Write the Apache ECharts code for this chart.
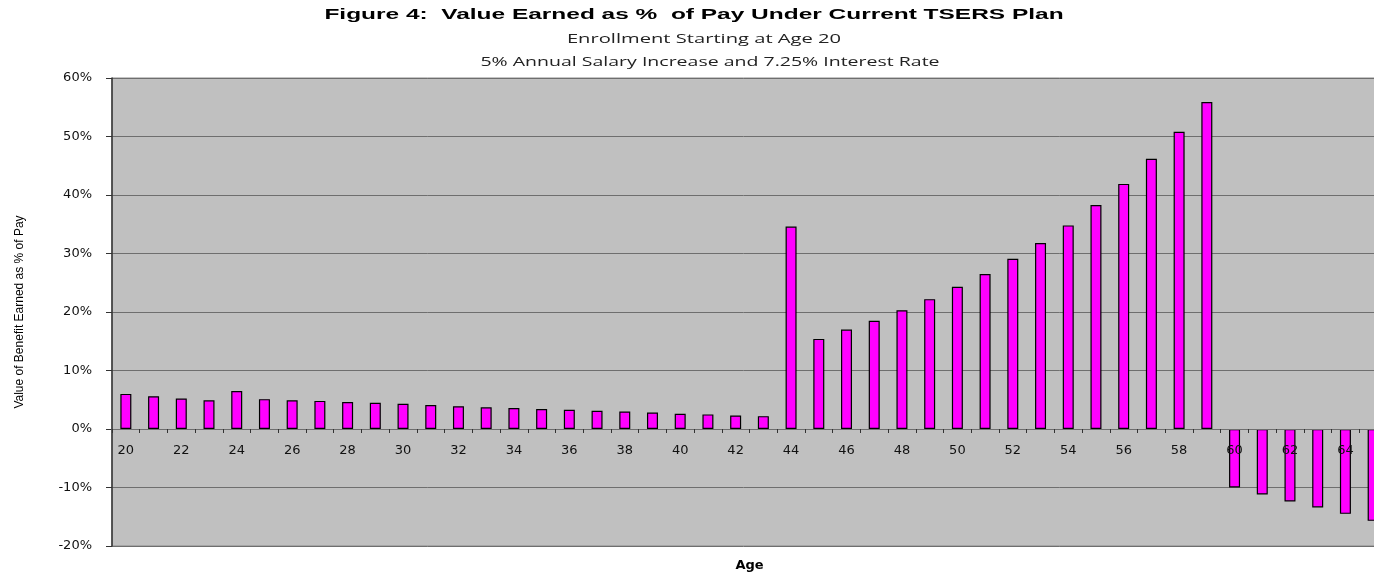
<!DOCTYPE html>
<html>
<head>
<meta charset="utf-8">
<title>Figure 4</title>
<script src="https://cdn.jsdelivr.net/npm/echarts@6/dist/echarts.min.js"></script>
<style>
  html, body { margin: 0; padding: 0; background: #fff; }
  #chart { width: 1374px; height: 579px; }
</style>
</head>
<body>
<div id="chart"></div>
<script>
// ages on the x axis
var ages = ['20','21','22','23','24','25','26','27','28','29',
            '30','31','32','33','34','35','36','37','38','39',
            '40','41','42','43','44','45','46','47','48','49',
            '50','51','52','53','54','55','56','57','58','59',
            '60','61','62','63','64','65'];

// value of benefit earned as % of pay
var valueEarned = [6.0, 5.6, 5.2, 4.9, 6.5, 5.1, 4.9, 4.8, 4.6, 4.5,
                   4.3, 4.1, 3.9, 3.7, 3.6, 3.4, 3.3, 3.1, 3.0, 2.8,
                   2.6, 2.5, 2.3, 2.2, 34.6, 15.4, 17.0, 18.5, 20.3, 22.2,
                   24.3, 26.5, 29.1, 31.8, 34.8, 38.3, 41.9, 46.2, 50.8, 55.9,
                   -10.0, -11.2, -12.4, -13.4, -14.5, -15.7];

var titleLines = [
    'Figure 4:  Value Earned as %  of Pay Under Current TSERS Plan',
    'Enrollment Starting at Age 20',
    '5% Annual Salary Increase and 7.25% Interest Rate'
];

var chart = echarts.init(document.getElementById('chart'));

// the original picture is stretched sideways, so the title lines get a scaleX
function titleText(str, x, y, size, weight, sx) {
    return {
        type: 'text',
        x: x,
        y: y,
        scaleX: sx,
        style: {
            text: str,
            fontFamily: weight === 'bold' ? 'Liberation Sans' : 'Open Sans',
            fontWeight: weight,
            fontSize: size,
            fill: weight === 'bold' ? '#000' : '#222',
            align: 'center',
            verticalAlign: 'middle'
        }
    };
}

var option = {
    animation: false,
    graphic: [
        titleText(titleLines[0], 694, 15, 15, 'bold', 1.63),
        titleText(titleLines[1], 704, 39, 13, 'normal', 1.55),
        titleText(titleLines[2], 710, 62, 13, 'normal', 1.5)
    ],
    grid: {
        left: 112,
        top: 78,
        width: 1275,
        bottom: 33,
        outerBoundsMode: 'none',
        containLabel: false,
        show: true,
        backgroundColor: '#c0c0c0',
        borderColor: '#8a8a8a',
        borderWidth: 1
    },
    xAxis: {
        type: 'category',
        data: ages,
        position: 'bottom',
        offset: -117,   // pull the category axis up onto the 0% line
        z: 3,           // labels sit on top of the negative bars
        name: 'Age',
        nameLocation: 'middle',
        nameGap: 130,
        nameTextStyle: { fontFamily: 'DejaVu Sans', fontWeight: 'bold', fontSize: 13, color: '#000' },
        axisLine: { onZero: false, lineStyle: { color: '#6e6e6e', width: 1 } },
        axisTick: { show: true, interval: 0, length: 4, lineStyle: { color: '#333' } },
        axisLabel: {
            interval: 1,
            margin: 15,
            fontFamily: 'DejaVu Sans',
            fontSize: 13,
            color: '#111'
        },
        splitLine: { show: false }
    },
    yAxis: {
        type: 'value',
        min: -20,
        max: 60,
        interval: 10,
        name: 'Value of Benefit Earned as % of Pay',
        nameLocation: 'middle',
        nameGap: 86,
        nameRotate: 90,
        nameTextStyle: { fontFamily: 'Liberation Sans', fontSize: 12, color: '#000' },
        axisLine: { show: true, lineStyle: { color: '#333', width: 1.5 } },
        axisTick: { show: true, length: 6, lineStyle: { color: '#333' } },
        axisLabel: {
            formatter: '{value}%',
            margin: 20,
            fontFamily: 'DejaVu Sans',
            fontSize: 13,
            color: '#111'
        },
        splitLine: { show: true, lineStyle: { color: '#6e6e6e', width: 1 } }
    },
    series: [
        {
            name: 'Value Earned',
            type: 'bar',
            data: valueEarned,
            barWidth: 11,
            itemStyle: {
                color: '#ff00ff',
                borderColor: '#000',
                borderWidth: 1.2
            }
        }
    ]
};

chart.setOption(option);
</script>
</body>
</html>
